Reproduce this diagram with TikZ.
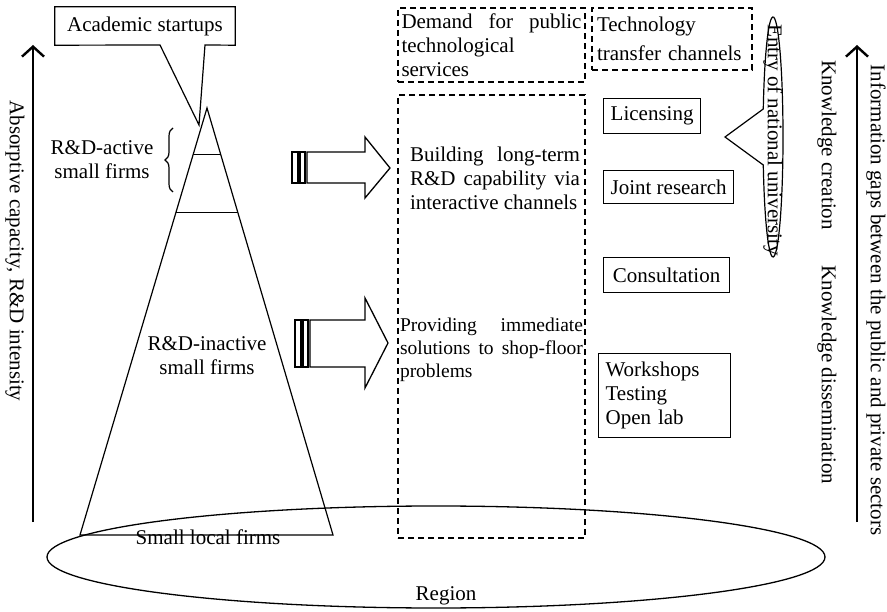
\documentclass[tikz,border=0pt]{standalone}
\usepackage{fontspec}
\setmainfont{Liberation Serif}
\usetikzlibrary{shapes.geometric, arrows.meta, calc, decorations.pathreplacing}
\tikzstyle{axisarrow} = [line width=2.4pt, -{Straight Barb[length=10pt,width=22pt]}]
\tikzstyle{channel} = [rectangle, draw=black, line width=1.2pt, align=left, inner sep=6pt, anchor=north west]
\tikzstyle{dashbox} = [rectangle, draw=black, line width=1.5pt, dash pattern=on 6pt off 4pt]
\tikzstyle{fatarrow} = [draw=black, line width=1.3pt]
\tikzstyle{sidetext} = [rotate=-90, inner sep=0pt]

\begin{document}
\begin{tikzpicture}[x=1pt, y=-1pt, font=\fontsize{21}{24}\selectfont]
    \useasboundingbox (0,0) rectangle (887,612);

    % Region
    \node[draw, ellipse, line width=1.3pt, minimum width=778pt, minimum height=102pt, inner sep=0pt] (region) at (436,557) {};
    \node (regionlbl) at (446,596) {Region};

    % Pyramid of small firms
    \coordinate (apex) at (207,108);
    \coordinate (baseL) at (80,535);
    \coordinate (baseR) at (333,535);
    \draw[line width=1.2pt] (apex) -- (baseL) -- (baseR) -- cycle;
    \draw[line width=1.2pt] ($(apex)!0.108!(baseL)$) -- ($(apex)!0.108!(baseR)$);
    \draw[line width=1.2pt] ($(apex)!0.244!(baseL)$) -- ($(apex)!0.244!(baseR)$);
    \node (local) at (208,537) {Small local firms};
    \node[align=center] (inactive) at (207,356) {R\&D-inactive\\small firms};
    \node[align=center] (active) at (102,160) {R\&D-active\\small firms};
    \draw[line width=1.2pt, decorate, decoration={brace, amplitude=8pt}] (173,192) -- (173,128);

    % Academic startups callout
    \node[minimum width=180pt, minimum height=38pt, inner sep=0pt] (startups) at (145,26) {Academic startups};
    \coordinate (startuptip) at (199,125);
    \draw[line width=1.2pt] (startups.north west) -- (startups.north east) -- (startups.south east)
        -- (205,45) -- (startuptip) -- (160,45) -- (startups.south west) -- cycle;

    % Absorptive capacity axis
    \coordinate (absbot) at (33,522);
    \coordinate (abstop) at (33,45);
    \draw[axisarrow] (absbot) -- (abstop);
    \node[sidetext] (absorb) at (15,251) {Absorptive capacity, R\&D intensity};

    % Block arrows
    \draw[fatarrow] (292,152) rectangle (298,183);
    \draw[fatarrow] (300,152) rectangle (305,183);
    \draw[fatarrow] (307,152) -- (365,152) -- (365,137) -- (390,168) -- (365,198) -- (365,183) -- (307,183) -- cycle;
    \draw[fatarrow] (295,320) rectangle (301,367);
    \draw[fatarrow] (303,320) rectangle (308,367);
    \draw[fatarrow] (310,320) -- (365,320) -- (365,298) -- (388,343) -- (365,388) -- (365,367) -- (310,367) -- cycle;

    % Demand for public services
    \node[dashbox, minimum width=187pt, minimum height=74pt, text width=180pt, inner sep=3.5pt, align=justify] (demand) at (491.5,45)
        {Demand for public\linebreak technological\\services};
    \node[dashbox, minimum width=187pt, minimum height=443pt] (services) at (491.5,316.5) {};
    \node[text width=170pt, inner sep=0pt, align=justify] (longterm) at (495,178)
        {Building long-term\linebreak R\&D capability via\linebreak interactive channels};
    \node[text width=183pt, inner sep=0pt, align=justify, font=\fontsize{19.5}{23}\selectfont] (immediate) at (491.5,350)
        {Providing immediate\linebreak solutions to shop-floor\linebreak problems};

    % Technology transfer channels
    \node[dashbox, minimum width=160pt, minimum height=62pt, text width=150pt, inner sep=5pt, align=left] (transfer) at (672,39)
        {Technology\\[5pt]transfer channels};
    \node[channel, minimum width=97pt, minimum height=35pt] (licensing) at (603,98) {Licensing};
    \node[channel, minimum width=130pt, minimum height=33pt] (joint) at (603,170) {Joint research};
    \node[channel, minimum width=126pt, minimum height=35pt] (consult) at (603,257) {Consultation};
    \node[channel, minimum width=132pt, minimum height=84pt, text width=118pt] (workshops) at (598,353) {Workshops\\Testing\\Open lab};

    % Entry of national university callout
    \coordinate (entrytip) at (725,137);
    \draw[line width=1.2pt] (entrytip) -- (763.28,165) arc[start angle=193.5, end angle=526.5, x radius=10pt, y radius=120pt] -- cycle;
    \node[sidetext] (entry) at (773,140) {Entry of national university};

    % Knowledge and information gaps
    \node[sidetext] (creation) at (827,145) {Knowledge creation};
    \node[sidetext] (dissem) at (827,375) {Knowledge dissemination};
    \coordinate (infobot) at (857,522);
    \coordinate (infotop) at (857,45);
    \draw[axisarrow] (infobot) -- (infotop);
    \node[sidetext] (gaps) at (876,300) {Information gaps between the public and private sectors};

\end{tikzpicture}
\end{document}
